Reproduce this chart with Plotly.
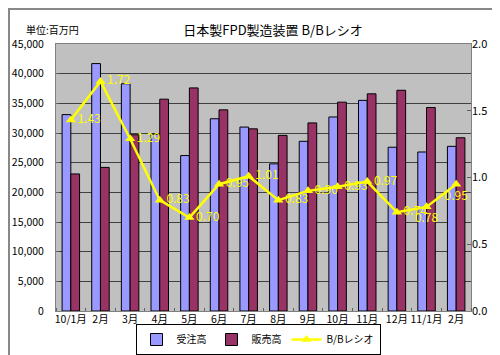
import plotly.graph_objects as go

categories = ["10/1月", "2月", "3月", "4月", "5月", "6月", "7月", "8月", "9月", "10月", "11月", "12月", "11/1月", "2月"]
orders = [33100, 41700, 38300, 29800, 26200, 32400, 31000, 24800, 28600, 32700, 35500, 27600, 26800, 27750]
sales = [23100, 24200, 29700, 35700, 37600, 33900, 30700, 29600, 31700, 35200, 36600, 37200, 34300, 29200]
bb_ratio = [1.43, 1.72, 1.29, 0.83, 0.70, 0.95, 1.01, 0.83, 0.90, 0.93, 0.97, 0.74, 0.78, 0.95]

label_pos = ["middle right"] * 12 + ["bottom center", "bottom center"]

FONT = "Noto Sans CJK JP, DejaVu Sans, sans-serif"
x = list(range(len(categories)))

W, H = 500, 355
L, R, T, B = 48, 37, 36, 52
pw, ph = W - L - R, H - T - B

fig = go.Figure()
fig.add_trace(go.Bar(x=x, y=orders, name="受注高", marker=dict(color="#9999FF", line=dict(color="#000000", width=1))))
fig.add_trace(go.Bar(x=x, y=sales, name="販売高", marker=dict(color="#993366", line=dict(color="#000000", width=1))))
fig.add_trace(go.Scatter(
    x=x, y=bb_ratio, name="B/Bレシオ", yaxis="y2", mode="lines+markers+text",
    line=dict(color="#FFFF00", width=2.5),
    marker=dict(symbol="triangle-up", size=9, color="#FFFF00"),
    text=[f"{v:.2f}" for v in bb_ratio], textposition=label_pos,
    textfont=dict(color="#FFFF00", size=12, family=FONT),
))

n = len(categories)
fig.update_layout(
    width=W, height=H,
    margin=dict(l=L, r=R, t=T, b=B, pad=0, autoexpand=False),
    paper_bgcolor="#FFFFFF", plot_bgcolor="#C0C0C0",
    font=dict(family=FONT, size=11, color="#000000"),
    barmode="group", bargap=0.41, bargroupgap=0,
    title=dict(text="日本製FPD製造装置 B/Bレシオ", x=0.53, xanchor="center", y=1 - 22 / H, yanchor="middle",
               font=dict(size=13, color="#000000", family=FONT)),
    xaxis=dict(range=[-0.5, n - 0.5], tickvals=x, ticktext=categories, showgrid=False, tickangle=0, automargin=False,
               showline=True, linecolor="#808080", linewidth=1, mirror=True, ticks="",
               ticklabelstandoff=-2, tickfont=dict(size=10.5),
               minor=dict(tickvals=[i - 0.5 for i in range(n + 1)], ticks="inside", ticklen=3, tickcolor="#606060", showgrid=False)),
    yaxis=dict(range=[0, 45000], dtick=5000, tickformat=",d", showgrid=True, gridcolor="#404040", gridwidth=1,
               showline=True, linecolor="#808080", linewidth=1, mirror=True, zeroline=False, automargin=False,
               ticks="inside", ticklen=3, tickcolor="#606060", ticklabelstandoff=9, tickfont=dict(size=10.5)),
    yaxis2=dict(range=[0, 2], dtick=0.5, tickformat=".1f", overlaying="y", side="right", showgrid=False,
                zeroline=False, showline=False, ticks="inside", ticklen=4, tickcolor="#606060", automargin=False,
                ticklabelstandoff=0, tickfont=dict(size=11)),
    legend=dict(orientation="h", x=0.5 - (L - R) / 2 / pw, y=-(316 - (H - B)) / ph,
                xanchor="center", yanchor="top", bgcolor="#FFFFFF", bordercolor="#000000", borderwidth=1,
                font=dict(size=10), itemwidth=30, tracegroupgap=0),
    showlegend=True,
)

fig.add_annotation(text="単位:百万円", xref="paper", yref="paper", x=(16 - L) / pw, y=(H - B - 21) / ph,
                   xanchor="left", yanchor="middle", showarrow=False, font=dict(size=10, family=FONT))

fig.add_shape(type="rect", xref="paper", yref="paper",
              x0=(-L + 1) / pw, x1=(W - L - 1) / pw, y0=(-B + 1) / ph, y1=(H - B - 1) / ph,
              line=dict(color="#888888", width=2), fillcolor="rgba(0,0,0,0)", layer="above")

fig.write_html("out.html")
